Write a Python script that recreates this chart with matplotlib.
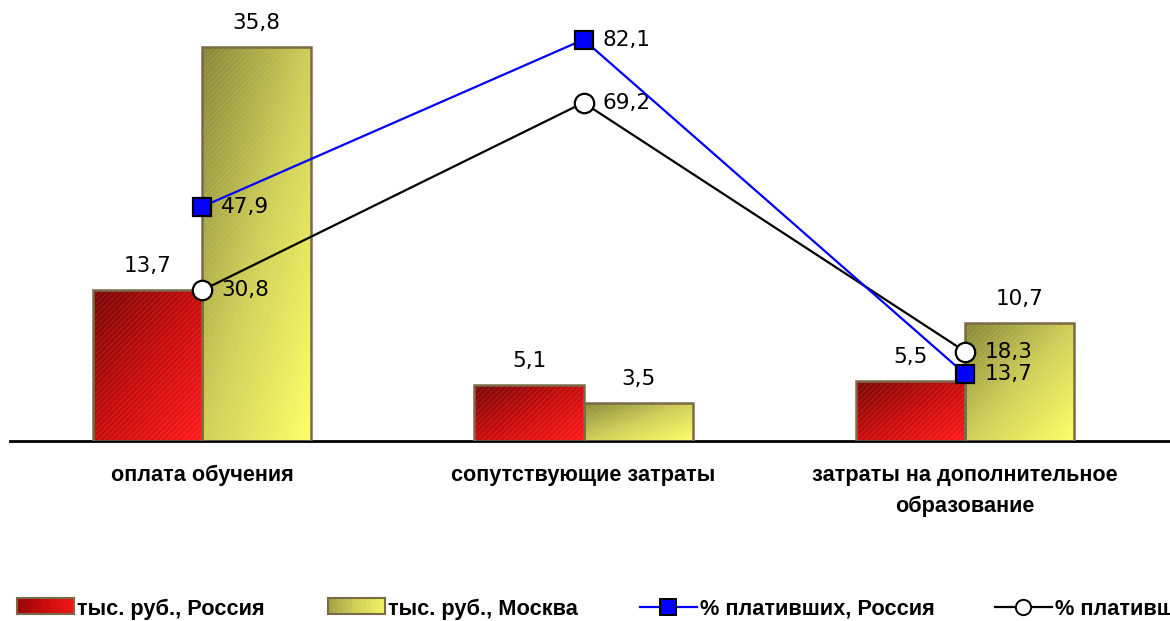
import numpy as np
import matplotlib
matplotlib.use("Agg")
import matplotlib.pyplot as plt
from matplotlib.patches import Rectangle
from matplotlib.lines import Line2D
from matplotlib.legend_handler import HandlerBase
from matplotlib.colors import LinearSegmentedColormap

categories = ["оплата обучения", "сопутствующие затраты",
              "затраты на дополнительное\nобразование"]
rub_russia = [13.7, 5.1, 5.5]
rub_moscow = [35.8, 3.5, 10.7]
pct_russia = [47.9, 82.1, 13.7]
pct_moscow = [30.8, 69.2, 18.3]
series_names = ["тыс. руб., Россия", "тыс. руб., Москва",
                "% плативших, Россия", "% плативших, Москва"]

red_cmap = LinearSegmentedColormap.from_list("r", ["#7a0606", "#c80c0c", "#ff1a1a"])
yel_cmap = LinearSegmentedColormap.from_list("y", ["#8a8838", "#cfcf58", "#ffff66"])
edge = "#7b6a48"
plt.rcParams["hatch.linewidth"] = 0.6

fig = plt.figure(figsize=(11.7, 6.21), dpi=100)
ax = fig.add_axes([10 / 1170, 180 / 621, 1160 / 1170, 440 / 621])
ax2 = ax.twinx()

x = np.arange(len(categories))
w = 0.286
grad = np.add.outer(np.linspace(0, 1, 60), np.linspace(0, 1, 60)) / 2


def gradient_bar(ax, x0, h, cmap):
    rect = Rectangle((x0, 0), w, h, facecolor="none", edgecolor=edge, lw=1.8, zorder=3)
    ax.add_patch(rect)
    im = ax.imshow(grad, cmap=cmap, extent=(x0, x0 + w, 0, h), origin="upper",
                   aspect="auto", zorder=2, interpolation="bilinear")
    im.set_clip_path(rect)
    ax.add_patch(Rectangle((x0, 0), w, h, facecolor="none", edgecolor=(1, 1, 1, 0.12),
                           lw=0, hatch="//////", zorder=2.5))


def fmt(v):
    return f"{v:.1f}".replace(".", ",")


for i in x:
    gradient_bar(ax, i - w, rub_russia[i], red_cmap)
    gradient_bar(ax, i, rub_moscow[i], yel_cmap)
    ax.annotate(fmt(rub_russia[i]), (i - w / 2, rub_russia[i]),
                xytext=(0, 10), textcoords="offset points", ha="center", va="bottom",
                fontsize=15.5, family="DejaVu Sans")
    ax.annotate(fmt(rub_moscow[i]), (i + w / 2, rub_moscow[i]),
                xytext=(0, 10), textcoords="offset points", ha="center", va="bottom",
                fontsize=15.5, family="DejaVu Sans")
ax.set_xlim(-0.503, 2.537)
ax.set_ylim(0, 40)
ax2.set_ylim(0, 90)

ax2.plot(x, pct_moscow, color="black", lw=1.6, marker="o", ms=14,
         mfc="white", mec="black", mew=1.6, zorder=5)
ax2.plot(x, pct_russia, color="#0000ff", lw=1.6, marker="s", ms=13,
         mfc="#0000ff", mec="black", mew=1.6, zorder=6)
for i in x:
    for vals in (pct_russia, pct_moscow):
        ax2.annotate(fmt(vals[i]), (i, vals[i]),
                     xytext=(14, 0), textcoords="offset points", ha="left",
                     va="center", fontsize=15.5, family="DejaVu Sans")

for a in (ax, ax2):
    for s in ("top", "left", "right"):
        a.spines[s].set_visible(False)
    a.set_yticks([])
ax2.spines["bottom"].set_visible(False)
ax.spines["bottom"].set_linewidth(2)
ax.set_zorder(1)
ax2.set_zorder(2)
ax.set_xticks(x)
ax.set_xticklabels(categories, fontsize=15.6, fontweight="bold", family="Liberation Sans")
for t in ax.get_xticklabels():
    t.set_linespacing(1.65)
ax.tick_params(axis="x", length=0, pad=17)


class GradHandler(HandlerBase):
    def __init__(self, cmap):
        super().__init__()
        self.cmap = cmap

    def create_artists(self, legend, orig, xd, yd, width, height, fontsize, trans):
        arts = []
        n = 12
        for k in range(n):
            arts.append(Rectangle((xd + width * k / n, yd), width / n + 0.3, height,
                                  facecolor=self.cmap(0.2 + 0.7 * k / n), lw=0,
                                  transform=trans))
        arts.append(Rectangle((xd, yd), width, height, facecolor="none",
                              edgecolor=edge, lw=1.5, transform=trans))
        return arts


h_red = Rectangle((0, 0), 1, 1)
h_yel = Rectangle((0, 1), 1, 1)
h_blue = Line2D([], [], color="#0000ff", lw=1.6, marker="s", ms=11,
                mfc="#0000ff", mec="black", mew=1.4)
h_black = Line2D([], [], color="black", lw=1.6, marker="o", ms=11,
                 mfc="white", mec="black", mew=1.4)
handles = [h_red, h_yel, h_blue, h_black]
xpos = [17, 328, 640, 995]
for hd, name, xp in zip(handles, series_names, xpos):
    hmap = {}
    if hd is h_red:
        hmap = {Rectangle: GradHandler(red_cmap)}
    elif hd is h_yel:
        hmap = {Rectangle: GradHandler(yel_cmap)}
    fig.legend([hd], [name], loc="center left", bbox_to_anchor=(xp / 1170, 12 / 621),
               frameon=False, handlelength=2.6, handleheight=0.75, handletextpad=0.15,
               borderpad=0, borderaxespad=0,
               prop={"family": "Liberation Sans", "weight": "bold", "size": 15.7},
               handler_map=hmap)

fig.savefig("out.png", dpi=100)
